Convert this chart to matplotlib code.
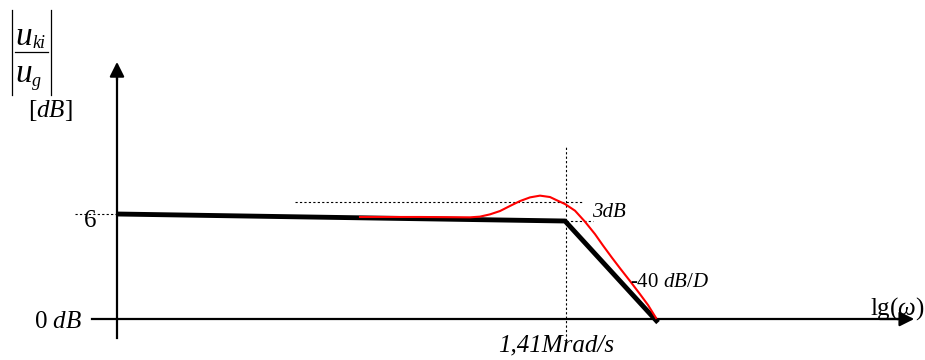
import matplotlib
matplotlib.use('Agg')
import matplotlib.pyplot as plt

plt.rcParams['font.family'] = ['Liberation Serif', 'DejaVu Serif']
plt.rcParams['mathtext.fontset'] = 'custom'
plt.rcParams['mathtext.rm'] = 'Liberation Serif'
plt.rcParams['mathtext.it'] = 'Liberation Serif:italic'

# Bode magnitude sketch (x: lg(w) in arbitrary units, y: dB)
asym_x = [0.0, 4.48, 5.41]
asym_y = [6.0, 5.6, -0.2]

real_x = [2.43, 3.03, 3.53, 3.63, 3.73, 3.83, 3.93, 4.03, 4.13, 4.23,
          4.33, 4.40, 4.48, 4.58, 4.68, 4.78, 4.86, 4.95, 5.03, 5.13,
          5.23, 5.31, 5.39]
real_y = [5.83, 5.83, 5.81, 5.85, 5.98, 6.17, 6.46, 6.74, 6.95, 7.05,
          6.97, 6.78, 6.57, 6.19, 5.56, 4.85, 4.2, 3.5, 2.9, 2.17,
          1.42, 0.8, 0.06]

corner_x = 4.49
peak_ref = 6.69
dc_level = 6.0

fig = plt.figure(figsize=(9.25, 3.6), dpi=100)
ax = fig.add_axes([0, 0, 1, 1])
ax.set_xlim(-1.17, 8.08)
ax.set_ylim(-2.343, 18.23)
ax.axis('off')

# axes with arrows
ax.plot([0, 0], [-1.09, 14.0], color='black', lw=1.6)
ax.annotate('', xy=(0, 14.85), xytext=(0, 13.5),
            arrowprops=dict(arrowstyle='-|>', color='black', lw=1.6,
                            mutation_scale=22))
ax.plot([-0.25, 7.9], [0, 0], color='black', lw=1.6)
ax.annotate('', xy=(8.0, 0), xytext=(7.6, 0),
            arrowprops=dict(arrowstyle='-|>', color='black', lw=1.6,
                            mutation_scale=22))

# dotted guide lines
dot = dict(color='black', lw=0.8, ls=(0, (2, 2)))
ax.plot([-0.42, 0], [dc_level, dc_level], **dot)
ax.plot([1.78, 4.65], [peak_ref, peak_ref], **dot)
ax.plot([corner_x, 4.76], [5.6, 5.6], **dot)
ax.plot([corner_x, corner_x], [-1.49, 9.94], **dot)

# asymptote and real curve
ax.plot(asym_x, asym_y, color='black', lw=3.5, solid_capstyle='butt')
ax.plot(real_x, real_y, color='red', lw=1.5, solid_joinstyle='round')

# labels
ax.text(-0.27, 5.6, '6', fontsize=18, ha='center', va='center')
ax.text(-0.35, -0.17, r'0 $dB$', fontsize=18, ha='right', va='center')
ax.text(4.75, 6.1, '3dB', fontsize=15, style='italic', ha='left', va='center')
ax.text(5.13, 2.1, r'-40 $dB/D$', fontsize=15, ha='left', va='center')
ax.text(7.53, 0.6, r'lg($\omega$)', fontsize=18, ha='left', va='center')
ax.text(4.39, -1.49, '1,41Mrad/s', fontsize=18, style='italic',
        ha='center', va='center')

# |u_ki / u_g| label built by hand
ax.plot([-1.05, -1.05], [12.8, 17.66], color='black', lw=0.9)
ax.plot([-0.66, -0.66], [12.8, 17.66], color='black', lw=0.9)
ax.plot([-1.02, -0.69], [15.26, 15.26], color='black', lw=0.9)
ax.text(-0.93, 15.66, 'u', fontsize=24, style='italic', ha='center',
        va='baseline')
ax.text(-0.85, 15.49, 'ki', fontsize=13, style='italic', ha='left',
        va='baseline')
ax.text(-0.93, 13.54, 'u', fontsize=24, style='italic', ha='center',
        va='baseline')
ax.text(-0.85, 13.31, 'g', fontsize=13, style='italic', ha='left',
        va='baseline')
ax.text(-0.67, 11.94, r'[$dB$]', fontsize=18, ha='center', va='center')

fig.savefig('out.png', dpi=100)
